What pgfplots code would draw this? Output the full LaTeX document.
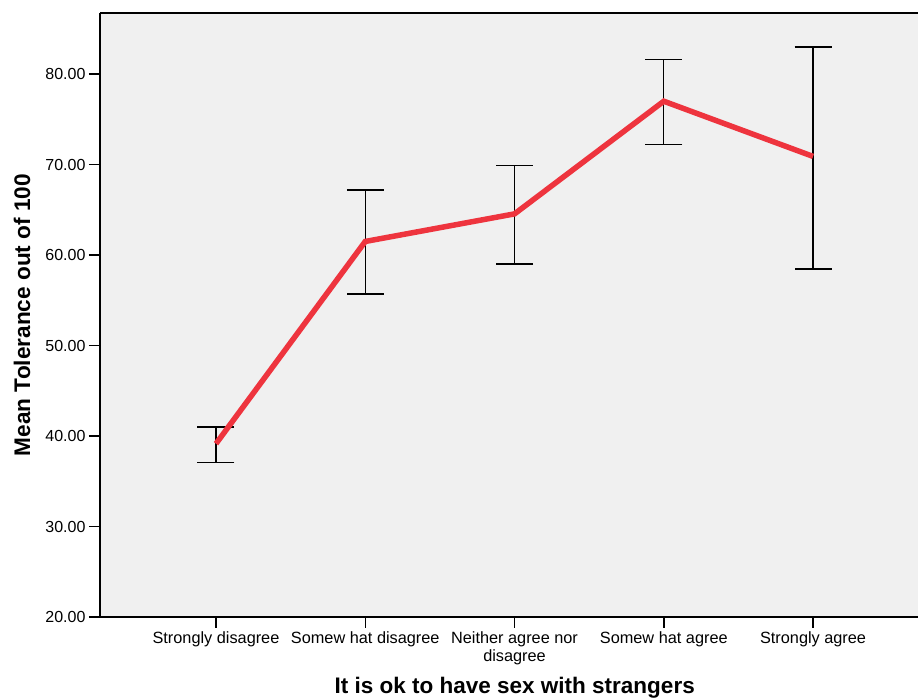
\documentclass[border=0pt]{standalone}
\usepackage{pgfplots}
\pgfplotsset{compat=1.18}
\usepackage{pgfplotstable}
\usepackage{fontspec}
\setmainfont{Liberation Sans}
\definecolor{bgcol}{RGB}{240,240,240}
\definecolor{linered}{RGB}{238,52,62}
\pgfplotstableread{
x y ep em
0 39.15 1.85 2.10
1 61.5 5.7 5.8
2 64.55 5.35 5.55
3 77.0 4.6 4.8
4 70.9 12.1 12.45
}\datatable
\begin{document}
\begin{tikzpicture}
\begin{axis}[
  scale only axis,
  width=818pt, height=604pt,
  xmin=-0.777, xmax=4.703,
  ymin=20, ymax=86.75,
  axis x line*=bottom, axis y line*=left,
  axis line style={-, line width=1.4pt, black},
  axis background/.style={fill=bgcol},
  tick align=outside,
  major tick length=11pt,
  tick style={line width=1.4pt, black},
  xtick={0,1,2,3,4},
  xticklabels={Strongly disagree, Somew hat disagree, {Neither agree nor\\disagree}, Somew hat agree, Strongly agree},
  xticklabel style={font=\fontsize{16.3}{18.5}\selectfont, align=center, anchor=north, yshift=0pt},
  ytick={20,30,40,50,60,70,80},
  yticklabel style={font=\fontsize{16}{17}\selectfont},
  /pgf/number format/.cd, fixed, fixed zerofill, precision=2, assume math mode=true,
  /pgfplots/.cd,
  xlabel={It is ok to have sex with strangers},
  ylabel={Mean Tolerance out of 100},
  xlabel style={font=\fontsize{22.5}{24}\bfseries, at={(axis description cs:0.507,-0.1175)}, anchor=center},
  ylabel style={font=\fontsize{22.6}{24}\bfseries, at={(axis description cs:-0.0954,0.5)}, anchor=center},
  clip=false,
]
\addplot[draw=none, mark=none, forget plot,
  error bars/.cd, y dir=both, y explicit,
  error bar style={line width=1.3pt, black},
  error mark options={rotate=90, mark size=18.5pt, line width=1.3pt, black}]
  table[x=x, y=y, y error plus=ep, y error minus=em] {\datatable};
\addplot[linered, line width=5.5pt, mark=none] table[x=x, y=y] {\datatable};
\draw[line width=1.4pt, black] (rel axis cs:0,1) -- (rel axis cs:1,1);
\end{axis}
\pgfresetboundingbox
\path (-100pt,-83pt) rectangle (818pt,617pt);
\end{tikzpicture}
\end{document}
